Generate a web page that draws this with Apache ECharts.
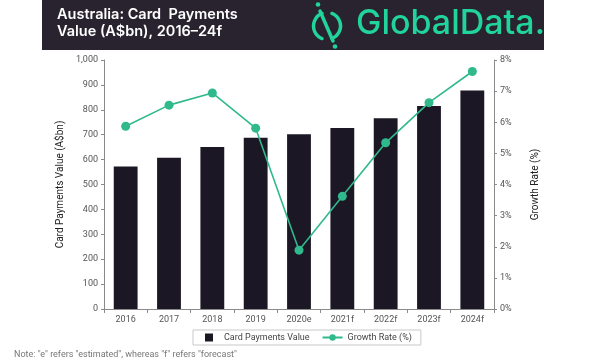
<!DOCTYPE html>
<html>
<head>
<meta charset="utf-8">
<script src="https://cdn.jsdelivr.net/npm/echarts@6/dist/echarts.min.js"></script>
<style>html,body{margin:0;padding:0;background:#fff}#c{width:600px;height:360px}</style>
</head>
<body>
<div id="c"></div>
<script>
var categories = ['2016','2017','2018','2019','2020e','2021f','2022f','2023f','2024f'];
var cardValues = [572, 607, 651, 688, 702, 727, 766, 815, 878];
var growthRates = [5.87, 6.55, 6.94, 5.81, 1.89, 3.62, 5.34, 6.63, 7.63];
var leftTicks = [0, 1000, 100];
var rightTicks = [0, 8, 1];

var chart = echarts.init(document.getElementById('c'), null, {renderer: 'canvas'});
var green = '#2fb98c';
var logoGreen = '#20d49b';
var dark = '#1c1725';
var axisGray = '#8a8a8a';
var labelGray = '#555';
var font = 'Roboto, "Noto Sans", sans-serif';

chart.setOption({
  animation: false,
  backgroundColor: '#fff',
  textStyle: {fontFamily: font},
  grid: {left: 104, right: 106, top: 60, bottom: 51},
  graphic: [
    {type: 'rect', shape: {x: 42, y: 0, width: 502, height: 50}, style: {fill: '#28232f'}},
    {type: 'text', left: 57, top: 7, style: {text: 'Australia: Card  Payments', fill: '#fff', font: '600 14.5px Inter, Roboto, sans-serif'}},
    {type: 'text', left: 57, top: 24, style: {text: 'Value (A$bn), 2016\u201324f', fill: '#fff', font: '600 14.5px Inter, Roboto, sans-serif'}},
    {type: 'arc', shape: {cx: 327, cy: 26, r: 13.5, startAngle: Math.PI * 0.62, endAngle: Math.PI * 1.38}, style: {stroke: logoGreen, lineWidth: 3.5, fill: null, lineCap: 'round'}},
    {type: 'arc', shape: {cx: 327, cy: 26, r: 13.5, startAngle: -Math.PI * 0.38, endAngle: Math.PI * 0.38}, style: {stroke: logoGreen, lineWidth: 3.5, fill: null, lineCap: 'round'}},
    {type: 'line', shape: {x1: 320, y1: 11, x2: 333, y2: 41}, style: {stroke: logoGreen, lineWidth: 3.5, lineCap: 'round'}},
    {type: 'circle', shape: {cx: 318, cy: 4.5, r: 2.3}, style: {fill: logoGreen}},
    {type: 'circle', shape: {cx: 335, cy: 46.5, r: 2.3}, style: {fill: logoGreen}},
    {type: 'text', left: 356, top: 7, style: {text: 'GlobalData.', fill: logoGreen, font: '500 34px Inter, Roboto, sans-serif'}},
    {type: 'text', left: 14, top: 350, style: {text: 'Note: "e" refers "estimated", whereas "f" refers "forecast"', fill: '#777', font: '9px ' + font}}
  ],
  legend: {
    left: 193, top: 330,
    padding: [3, 9, 3, 12],
    borderColor: '#c8c8c8', borderWidth: 1,
    itemWidth: 20, itemHeight: 8, itemGap: 12,
    textStyle: {color: '#444', fontSize: 9, fontFamily: font},
    data: [
      {name: 'Card Payments Value', icon: 'path://M0,0h10v10h-10z'},
      {name: 'Growth Rate (%)'}
    ]
  },
  xAxis: {
    type: 'category',
    data: categories,
    axisLine: {lineStyle: {color: axisGray}},
    axisTick: {show: true, length: 4, lineStyle: {color: axisGray}},
    axisLabel: {color: labelGray, fontSize: 9, margin: 6}
  },
  yAxis: [
    {
      type: 'value', min: leftTicks[0], max: leftTicks[1], interval: leftTicks[2],
      name: 'Card Payments Value (A$bn)', nameLocation: 'middle', nameGap: 33,
      nameTextStyle: {color: '#222', fontSize: 10},
      axisLine: {show: true, lineStyle: {color: axisGray}},
      axisTick: {show: true, length: 3, lineStyle: {color: axisGray}},
      splitLine: {show: false},
      axisLabel: {color: labelGray, fontSize: 9, margin: 6, formatter: function (v) { return v.toLocaleString('en-US'); }}
    },
    {
      type: 'value', min: rightTicks[0], max: rightTicks[1], interval: rightTicks[2],
      name: 'Growth Rate (%)', nameLocation: 'middle', nameGap: 36, nameRotate: 90,
      nameTextStyle: {color: '#222', fontSize: 10},
      axisLine: {show: true, lineStyle: {color: axisGray}},
      axisTick: {show: true, length: 3, lineStyle: {color: axisGray}},
      splitLine: {show: false},
      axisLabel: {color: labelGray, fontSize: 9, margin: 6, formatter: '{value}%'}
    }
  ],
  series: [
    {
      name: 'Card Payments Value', type: 'bar', data: cardValues,
      barWidth: '55%',
      itemStyle: {color: dark}
    },
    {
      name: 'Growth Rate (%)', type: 'line', yAxisIndex: 1, data: growthRates,
      symbol: 'circle', symbolSize: 9,
      lineStyle: {color: green, width: 1.6},
      itemStyle: {color: green}
    }
  ]
});
</script>
</body>
</html>
